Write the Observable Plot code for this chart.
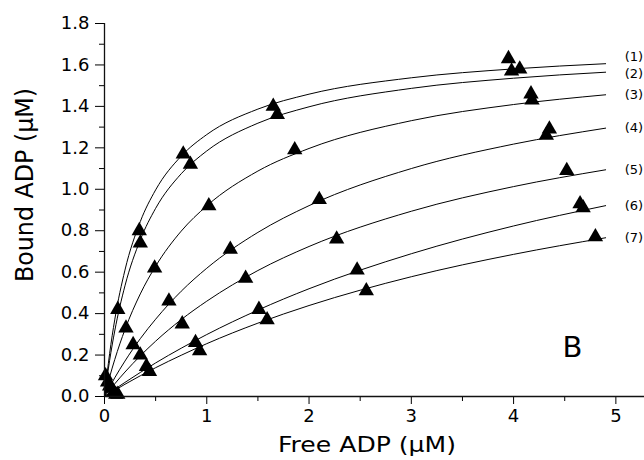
<!DOCTYPE html>
<html><head><meta charset="utf-8">
<script src="https://cdn.jsdelivr.net/npm/d3@7"></script>
<script src="https://cdn.jsdelivr.net/npm/@observablehq/plot@0.6"></script>
<style>body{margin:0;background:#fff;} svg{display:block;}</style>
</head><body><div id="chart"></div>
<script>
const curveX = [0, 0.05, 0.1, 0.2, 0.35, 0.5, 0.75, 1, 1.5, 2, 3, 4, 4.9];
const fit1 = [0, 0.207, 0.370, 0.610, 0.844, 0.997, 1.160, 1.264, 1.387, 1.459, 1.538, 1.581, 1.606];
const fit2 = [0, 0.174, 0.316, 0.534, 0.756, 0.908, 1.075, 1.185, 1.319, 1.398, 1.487, 1.536, 1.565];
const fit3 = [0, 0.094, 0.178, 0.323, 0.495, 0.629, 0.798, 0.920, 1.088, 1.197, 1.331, 1.409, 1.456];
const fit4 = [0, 0.046, 0.090, 0.171, 0.279, 0.373, 0.508, 0.619, 0.792, 0.921, 1.100, 1.218, 1.295];
const fit5 = [0, 0.031, 0.061, 0.118, 0.196, 0.267, 0.371, 0.460, 0.608, 0.724, 0.894, 1.013, 1.094];
const fit6 = [0, 0.018, 0.035, 0.068, 0.116, 0.162, 0.233, 0.299, 0.417, 0.520, 0.689, 0.823, 0.921];
const fit7 = [0, 0.015, 0.030, 0.059, 0.100, 0.139, 0.199, 0.255, 0.354, 0.439, 0.578, 0.686, 0.766];

// Measured points (triangles)
const ptsX1 = [0.01, 0.13, 0.34, 0.77, 1.65, 3.95];
const ptsY1 = [0.10, 0.42, 0.80, 1.17, 1.40, 1.63];
const ptsX2 = [0.03, 0.35, 0.84, 1.69, 3.98, 4.06];
const ptsY2 = [0.07, 0.74, 1.12, 1.36, 1.57, 1.58];
const ptsX3 = [0.05, 0.21, 0.49, 1.02, 1.86, 4.17, 4.18];
const ptsY3 = [0.05, 0.33, 0.62, 0.92, 1.19, 1.46, 1.43];
const ptsX4 = [0.07, 0.28, 0.63, 1.23, 2.10, 4.35, 4.32];
const ptsY4 = [0.04, 0.25, 0.46, 0.71, 0.95, 1.29, 1.26];
const ptsX5 = [0.09, 0.35, 0.76, 1.38, 2.27, 4.52];
const ptsY5 = [0.02, 0.20, 0.35, 0.57, 0.76, 1.09];
const ptsX6 = [0.11, 0.41, 0.89, 1.51, 2.47, 4.65, 4.68];
const ptsY6 = [0.01, 0.145, 0.26, 0.42, 0.61, 0.93, 0.91];
const ptsX7 = [0.13, 0.44, 0.93, 1.59, 2.56, 4.80];
const ptsY7 = [0.01, 0.12, 0.22, 0.37, 0.51, 0.77];

const curveLabels = ["(1)", "(2)", "(3)", "(4)", "(5)", "(6)", "(7)"];
const xMajor = [0, 1, 2, 3, 4, 5];
const xMinor = [0.5, 1.5, 2.5, 3.5, 4.5];
const yMajor = [0, 0.2, 0.4, 0.6, 0.8, 1.0, 1.2, 1.4, 1.6, 1.8];
const yMinor = [0.1, 0.3, 0.5, 0.7, 0.9, 1.1, 1.3, 1.5, 1.7];
const panelLabel = "B";
const xTitle = "Free ADP (μM)";
const yTitle = "Bound ADP (μM)";

const fits = [fit1, fit2, fit3, fit4, fit5, fit6, fit7];
const ptsX = [ptsX1, ptsX2, ptsX3, ptsX4, ptsX5, ptsX6, ptsX7];
const ptsY = [ptsY1, ptsY2, ptsY3, ptsY4, ptsY5, ptsY6, ptsY7];

const lineData = fits.flatMap((ys, i) => curveX.map((x, j) => ({x, y: ys[j], id: curveLabels[i]})));
const pointData = ptsX.flatMap((xs, i) => xs.map((x, j) => ({x, y: ptsY[i][j], id: curveLabels[i]})));
const endData = fits.map((ys, i) => ({x: curveX[curveX.length - 1], y: ys[ys.length - 1], label: curveLabels[i]}));

const font = "DejaVu Sans";

const chart = Plot.plot({
  width: 644,
  height: 460,
  marginLeft: 104,
  marginRight: 0,
  marginTop: 23,
  marginBottom: 64,
  x: {domain: [0, 5.28]},
  y: {domain: [0, 1.8]},
  style: {fontFamily: font, fontSize: "18px", color: "black", background: "white"},
  marks: [
    Plot.line(lineData, {x: "x", y: "y", z: "id", stroke: "black", strokeWidth: 1, curve: "monotone-x"}),
    Plot.dot(pointData, {x: "x", y: "y", symbol: "triangle", r: 5.7, fill: "black", stroke: "none"}),
    Plot.text(endData.filter(d => d.label !== "(1)" && d.label !== "(2)"), {x: "x", y: "y", text: "label", textAnchor: "start", dx: 19, dy: 0, fontSize: 13, fontFamily: font}),
    Plot.text(endData.filter(d => d.label === "(2)"), {x: "x", y: "y", text: "label", textAnchor: "start", dx: 19, dy: 1.5, fontSize: 13, fontFamily: font}),
    Plot.text(endData.filter(d => d.label === "(1)"), {x: "x", y: "y", text: "label", textAnchor: "start", dx: 19, dy: -6.5, fontSize: 13, fontFamily: font}),
    Plot.text([panelLabel], {frameAnchor: "bottom-right", text: d => d, dx: -72, dy: -40, textAnchor: "middle", fontSize: 29, fontFamily: font}),
    Plot.axisY(yMajor, {tickSize: 9, tickPadding: 6, tickFormat: d3.format(".1f"), label: null, fontSize: 18}),
    Plot.axisY(yMinor, {tickSize: 5, tickFormat: () => "", label: null}),
    Plot.axisX(xMajor, {tickSize: 8, tickPadding: 5, tickFormat: d3.format("d"), label: null, fontSize: 18}),
    Plot.axisX(xMinor, {tickSize: 5, tickFormat: () => "", label: null}),
    Plot.ruleX([0], {stroke: "#111", strokeWidth: 1.3}),
    Plot.ruleY([0], {stroke: "#111", strokeWidth: 1.3})
  ]
});

const svg = d3.select(chart);
const xr = chart.scale("x").range;
svg.append("text")
  .attr("x", (xr[0] + xr[1]) / 2 - 7)
  .attr("y", 452)
  .attr("text-anchor", "middle")
  .attr("font-family", font)
  .attr("font-size", 21)
  .attr("fill", "black")
  .attr("textLength", 178)
  .attr("lengthAdjust", "spacingAndGlyphs")
  .text(xTitle);
svg.append("text")
  .attr("transform", "translate(33,185) rotate(-90)")
  .attr("text-anchor", "middle")
  .attr("font-family", font)
  .attr("font-size", 25)
  .attr("fill", "black")
  .attr("textLength", 194)
  .attr("lengthAdjust", "spacingAndGlyphs")
  .text(yTitle);

document.getElementById("chart").appendChild(chart);
</script>
</body></html>
